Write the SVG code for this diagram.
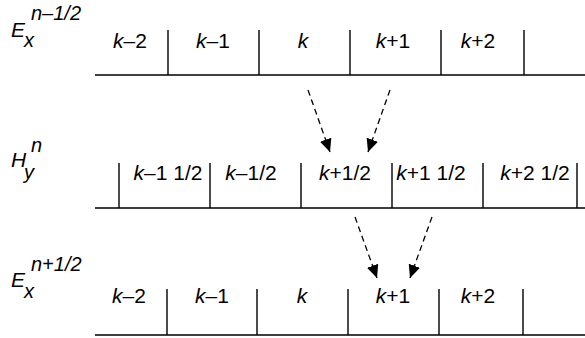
<svg xmlns="http://www.w3.org/2000/svg" width="585" height="338" viewBox="0 0 585 338">
<style>
.t{font-family:"Liberation Sans",Arial,sans-serif;font-style:italic;font-size:21px;fill:#000}
.lbl{font-family:"Liberation Sans",Arial,sans-serif;font-size:21px;fill:#000}
.s{font-size:20px}
.ln{stroke:#000;stroke-width:1.4;fill:none}
.ar{stroke:#000;stroke-width:1.3;fill:none;stroke-dasharray:6 4;marker-end:url(#ah)}
</style>
<defs>
<marker id="ah" markerWidth="14" markerHeight="12" refX="13" refY="6" orient="auto" markerUnits="userSpaceOnUse">
<path d="M0,0 L13,6 L0,12 z" fill="#000"/>
</marker>
</defs>
<rect width="585" height="338" fill="#fff"/>
<g id="row-ex-top">
<text class="t" x="11" y="37">E</text>
<text class="t s" x="24" y="47">x</text>
<text class="t s" x="31" y="20">n–1/2</text>
<path class="ln" d="M95,75 H585 M168,30 V75 M259,30 V75 M350,30 V75 M441,30 V75 M524,30 V75"/>
<text class="lbl" x="130" y="48" text-anchor="middle"><tspan font-style="italic">k</tspan>–2</text>
<text class="lbl" x="213" y="48" text-anchor="middle"><tspan font-style="italic">k</tspan>–1</text>
<text class="lbl" x="303" y="48" text-anchor="middle"><tspan font-style="italic">k</tspan></text>
<text class="lbl" x="393" y="48" text-anchor="middle"><tspan font-style="italic">k</tspan>+1</text>
<text class="lbl" x="478" y="48" text-anchor="middle"><tspan font-style="italic">k</tspan>+2</text>
</g>
<g id="row-hy">
<text class="t" x="11" y="167">H</text>
<text class="t s" x="24" y="179">y</text>
<text class="t s" x="31" y="152">n</text>
<path class="ln" d="M95,208 H585 M119,163 V208 M210,163 V208 M301,163 V208 M392,163 V208 M483,163 V208 M577,163 V208"/>
<text class="lbl" x="168" y="180" text-anchor="middle"><tspan font-style="italic">k</tspan>–1 1/2</text>
<text class="lbl" x="251" y="180" text-anchor="middle"><tspan font-style="italic">k</tspan>–1/2</text>
<text class="lbl" x="345" y="180" text-anchor="middle"><tspan font-style="italic">k</tspan>+1/2</text>
<text class="lbl" x="431" y="180" text-anchor="middle"><tspan font-style="italic">k</tspan>+1 1/2</text>
<text class="lbl" x="535" y="180" text-anchor="middle"><tspan font-style="italic">k</tspan>+2 1/2</text>
</g>
<g id="row-ex-bottom">
<text class="t" x="11" y="287">E</text>
<text class="t s" x="24" y="298">x</text>
<text class="t s" x="31" y="271">n+1/2</text>
<path class="ln" d="M95,335 H585 M167,289 V335 M257,289 V335 M348,289 V335 M439,289 V335 M523,289 V335"/>
<text class="lbl" x="129" y="303" text-anchor="middle"><tspan font-style="italic">k</tspan>–2</text>
<text class="lbl" x="212" y="303" text-anchor="middle"><tspan font-style="italic">k</tspan>–1</text>
<text class="lbl" x="302" y="303" text-anchor="middle"><tspan font-style="italic">k</tspan></text>
<text class="lbl" x="393" y="303" text-anchor="middle"><tspan font-style="italic">k</tspan>+1</text>
<text class="lbl" x="478" y="303" text-anchor="middle"><tspan font-style="italic">k</tspan>+2</text>
</g>
<g id="connectors">
<line class="ar" x1="308" y1="90" x2="330" y2="152"/>
<line class="ar" x1="390" y1="90" x2="368" y2="152"/>
<line class="ar" x1="355" y1="217" x2="377" y2="278"/>
<line class="ar" x1="432" y1="217" x2="410" y2="278"/>
</g>
</svg>
